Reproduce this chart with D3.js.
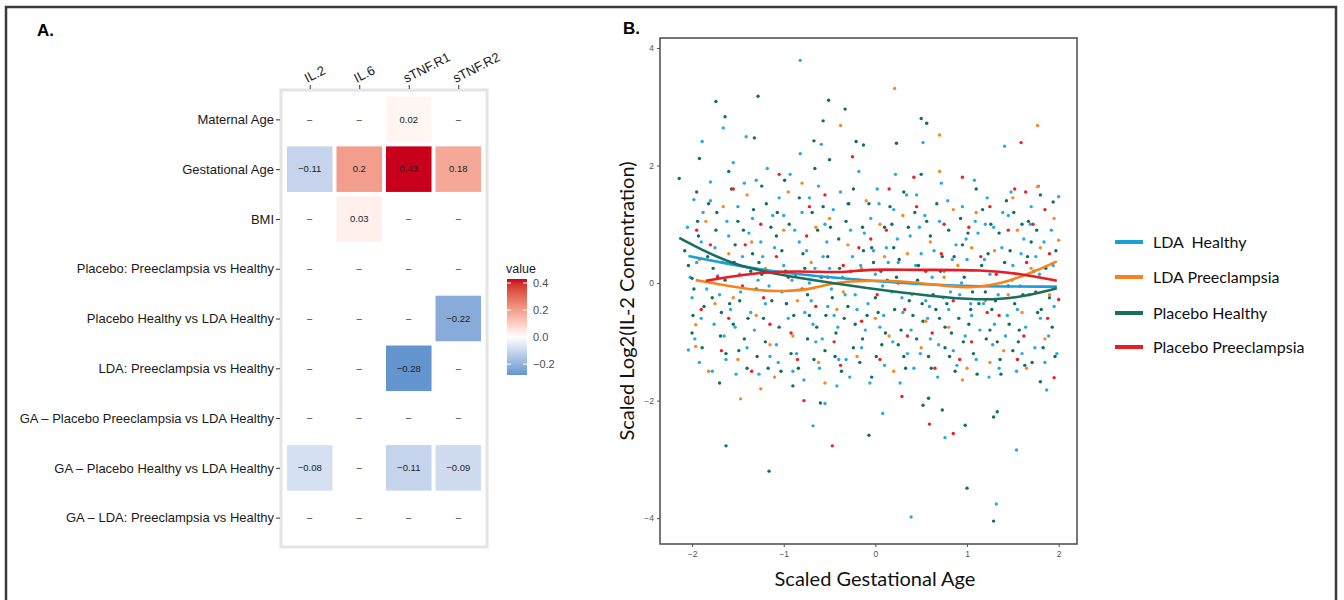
<!DOCTYPE html>
<html>
<head>
<meta charset="utf-8">
<script src="https://cdn.jsdelivr.net/npm/d3@7"></script>
<style>
  body { margin: 0; background: #fff; }
  svg { display: block; }
</style>
</head>
<body>
<div class="canvas"></div>
<script>
/////////////////////////////////////////////////
// Data
/////////////////////////////////////////////////

// Panel A: effect sizes (null = not significant, shown as "–")
const covariates = [
  "Maternal Age",
  "Gestational Age",
  "BMI",
  "Placebo: Preeclampsia vs Healthy",
  "Placebo Healthy vs LDA Healthy",
  "LDA: Preeclampsia vs Healthy",
  "GA – Placebo Preeclampsia vs LDA Healthy",
  "GA – Placebo Healthy vs LDA Healthy",
  "GA – LDA: Preeclampsia vs Healthy",
];
const cytokines = ["IL.2", "IL.6", "sTNF.R1", "sTNF.R2"];
const effects = [
  [null, null, 0.02, null],
  [-0.11, 0.2, 0.43, 0.18],
  [null, 0.03, null, null],
  [null, null, null, null],
  [null, null, null, -0.22],
  [null, null, -0.28, null],
  [null, null, null, null],
  [-0.08, null, -0.11, -0.09],
  [null, null, null, null],
];
const valueRange = [-0.28, 0.43];
const legendTicks = [-0.2, 0, 0.2, 0.4];

// Panel B: scaled gestational age vs scaled log2(IL-2)
const groups = ["LDA  Healthy", "LDA Preeclampsia", "Placebo Healthy", "Placebo Preeclampsia"];
const xTicks = [-2, -1, 0, 1, 2];
const yTicks = [-4, -2, 0, 2, 4];

const ldaHealthy = [
  [-2.05,0.95],[-1.95,0.35],[-1.9,-0.6],[-2.0,-0.25],[-1.88,1.2],[-1.92,-1.35],
  [-1.8,1.72],[-1.75,0.6],[-1.7,-0.2],[-1.65,-0.9],[-1.78,-1.5],[-1.62,1.05],[-1.72,0.12],
  [-1.55,2.05],[-1.5,1.3],[-1.45,0.45],[-1.58,-0.45],[-1.4,-1.1],[-1.52,-1.55],[-1.38,0.85],[-1.47,-0.15],
  [-1.3,1.75],[-1.25,0.7],[-1.2,-0.35],[-1.15,-1.25],[-1.32,-0.8],[-1.12,1.15],[-1.28,0.05],[-1.18,1.95],
  [-1.05,1.45],[-1.0,0.3],[-0.95,-0.6],[-0.9,-1.5],[-1.08,-1.05],[-0.88,0.9],[-1.02,-0.15],[-0.93,1.85],
  [-0.8,1.2],[-0.75,0.55],[-0.7,-0.3],[-0.65,-1.0],[-0.78,-1.65],[-0.62,1.65],[-0.72,0.0],[-0.68,-0.7],[-0.82,2.2],
  [-0.55,1.0],[-0.5,0.25],[-0.45,-0.55],[-0.4,-1.3],[-0.58,-0.95],[-0.38,1.55],[-0.48,-0.1],[-0.53,0.7],[-0.42,-1.75],
  [-0.3,1.35],[-0.25,0.45],[-0.2,-0.45],[-0.15,-1.1],[-0.33,-0.2],[-0.12,0.85],[-0.28,-1.6],[-0.18,1.9],
  [-0.05,1.1],[0.0,0.15],[0.05,-0.75],[0.1,-1.4],[-0.08,-0.35],[0.12,0.6],[0.02,1.6],[0.08,-0.05],
  [0.2,1.25],[0.25,0.35],[0.3,-0.5],[0.35,-1.2],[0.18,-0.15],[0.38,0.8],[0.27,-1.7],[0.22,1.85],
  [0.45,1.5],[0.5,0.5],[0.55,-0.3],[0.6,-0.95],[0.42,-1.45],[0.62,0.1],[0.48,0.95],[0.57,-0.6],
  [0.7,1.05],[0.75,0.2],[0.8,-0.45],[0.85,-1.15],[0.68,-1.6],[0.88,0.65],[0.72,1.7],[0.82,-0.15],
  [0.95,1.3],[1.0,0.4],[1.05,-0.55],[1.1,-1.3],[0.92,-0.2],[1.12,0.85],[0.98,-0.9],[1.08,1.75],
  [1.2,1.0],[1.25,0.15],[1.3,-0.7],[1.35,-1.45],[1.18,-0.35],[1.38,0.6],[1.22,1.45],[1.28,-1.05],
  [1.45,1.15],[1.5,0.3],[1.55,-0.45],[1.6,-1.2],[1.42,-0.9],[1.62,0.75],[1.48,1.55],[1.58,-0.05],
  [1.7,1.3],[1.75,0.45],[1.8,-0.6],[1.85,-1.35],[1.68,-0.2],[1.92,0.9],[1.95,-0.4],[1.78,1.65],
  [-0.82,3.79],[-1.66,2.64],[-1.89,2.41],[-1.41,2.49],[-0.59,2.36],[0.52,2.39],[1.41,2.33],
  [-0.68,-2.43],[0.08,-2.22],[0.39,-3.98],[0.76,-2.63],[1.32,-3.76],[1.54,-2.84],[-0.55,-2.05],
  [-1.98,1.42],[-2.04,-1.14],[2.0,1.47],[1.87,-1.82],
  [-2.02,0.1],[-1.97,-0.95],[-1.9,0.7],[-1.84,-0.1],[-1.8,1.4],[-1.76,-0.7],[-1.67,0.35],[-1.63,-1.3],
  [-1.6,0.8],[-1.53,-0.75],[-1.48,0.15],[-1.43,1.7],[-1.36,-0.5],[-1.34,1.1],[-1.27,-1.55],[-1.23,0.45],
  [-1.16,-0.05],[-1.1,0.6],[-1.06,-1.35],[-1.0,1.15],[-0.97,-0.35],[-0.91,0.05],[-0.86,-1.2],[-0.83,0.7],
  [-0.77,-0.5],[-0.72,1.45],[-0.66,0.25],[-0.61,-1.45],[-0.57,0.45],[-0.52,-0.4],[-0.46,1.25],[-0.41,-0.75],
  [-0.36,0.1],[-0.32,-1.3],[-0.27,0.9],[-0.22,-0.2],[-0.16,0.3],[-0.11,-0.8],[-0.06,-1.7],[-0.02,0.55],
  [0.04,1.35],[0.09,-0.55],[0.14,0.35],[0.19,-1.0],[0.24,0.75],[0.29,-0.25],[0.34,1.5],[0.39,-0.8],
  [0.44,0.3],[0.49,-1.2],[0.54,1.15],[0.59,-0.4],[0.64,0.55],[0.69,-1.05],[0.74,-0.25],[0.79,1.4],
  [0.84,0.4],[0.89,-1.4],[0.94,0.0],[0.99,0.75],[1.04,-0.35],[1.09,1.05],[1.14,-0.8],[1.19,0.4],
  [1.24,-1.6],[1.29,0.95],[1.34,-0.2],[1.39,1.2],[1.44,-0.55],[1.49,0.05],[1.54,-1.5],[1.59,0.5],
  [1.64,-0.75],[1.69,1.0],[1.74,-1.1],[1.79,0.15],[1.84,0.7],[1.89,-0.9],[1.94,0.3],[1.98,-1.2],
];
const placeboHealthy = [
  [-2.08,0.55],[-1.98,-0.1],[-1.93,0.8],[-2.0,-0.85],[-1.87,-0.4],[-1.95,1.55],
  [-1.82,1.35],[-1.77,0.25],[-1.68,-0.5],[-1.63,-1.2],[-1.74,0.9],[-1.7,-1.7],[-1.6,1.9],
  [-1.57,1.6],[-1.53,0.65],[-1.48,-0.3],[-1.43,-0.95],[-1.36,0.2],[-1.5,1.05],[-1.4,-1.45],[-1.55,-0.7],
  [-1.33,1.25],[-1.27,0.35],[-1.22,-0.6],[-1.17,-1.45],[-1.3,-0.1],[-1.14,0.95],[-1.24,1.65],[-1.2,-1.0],
  [-1.07,1.2],[-1.02,0.55],[-0.97,-0.35],[-0.92,-1.2],[-1.05,-0.75],[-0.87,0.15],[-0.99,1.75],[-0.9,-1.75],
  [-0.83,1.45],[-0.77,0.25],[-0.72,-0.55],[-0.67,-1.3],[-0.63,0.9],[-0.8,-0.1],[-0.74,-0.95],[-0.66,1.95],
  [-0.57,1.3],[-0.52,0.45],[-0.47,-0.25],[-0.43,-0.85],[-0.37,-1.5],[-0.55,-1.15],[-0.4,0.75],[-0.5,2.1],
  [-0.32,1.05],[-0.27,0.2],[-0.22,-0.7],[-0.17,-1.35],[-0.13,0.55],[-0.3,-0.4],[-0.24,1.6],[-0.14,-0.95],
  [-0.07,1.35],[-0.02,0.35],[0.03,-0.5],[0.07,-1.05],[0.13,0.05],[-0.04,-1.6],[0.1,0.95],[0.0,-0.25],
  [0.18,1.0],[0.23,0.1],[0.28,-0.8],[0.33,-1.45],[0.37,-0.3],[0.2,0.6],[0.31,1.55],[0.25,-1.05],
  [0.43,1.2],[0.47,0.3],[0.52,-0.65],[0.58,-1.25],[0.63,-0.2],[0.45,-0.95],[0.6,0.8],[0.5,1.85],
  [0.67,1.35],[0.73,0.45],[0.78,-0.35],[0.83,-0.85],[0.87,-1.5],[0.7,-0.6],[0.8,0.9],[0.76,-1.1],
  [0.93,1.1],[0.97,0.1],[1.02,-0.7],[1.07,-1.2],[1.13,-0.35],[0.95,0.65],[1.1,1.6],[1.04,-0.45],
  [1.17,1.25],[1.23,0.5],[1.27,-0.45],[1.33,-1.0],[1.37,-1.55],[1.2,-0.15],[1.35,0.85],[1.25,-0.8],
  [1.43,1.4],[1.47,0.55],[1.52,-0.35],[1.57,-0.8],[1.63,-1.4],[1.45,-0.05],[1.6,1.0],[1.5,-1.15],
  [1.67,1.05],[1.73,0.2],[1.77,-0.5],[1.83,-1.1],[1.9,-0.25],[1.7,0.7],[1.97,0.55],[1.8,1.5],[1.93,-0.75],
  [-1.74,3.09],[-1.28,3.18],[-0.51,3.11],[-0.33,2.96],[-1.64,2.83],[-0.57,2.76],[0.5,2.8],[0.56,2.72],
  [-1.32,2.47],[-0.67,2.42],[-0.21,2.41],[-0.13,2.35],[0.23,2.38],
  [-1.63,-2.77],[-1.16,-3.2],[-0.07,-2.59],[0.73,-2.16],[0.98,-2.42],[1.0,-3.49],[1.29,-2.28],
  [1.33,-2.19],[1.29,-4.05],[0.52,-2.08],[0.58,-1.96],[-0.6,-2.04],
  [-2.14,1.78],[-1.92,2.12],[-2.0,0.08],[1.94,1.38],[1.8,-1.68],
  [-2.04,0.3],[-1.99,-0.55],[-1.94,1.05],[-1.89,-1.1],[-1.83,0.45],[-1.78,-0.25],[-1.73,1.2],[-1.69,-0.9],
  [-1.64,0.05],[-1.59,-0.35],[-1.54,0.35],[-1.49,-1.15],[-1.44,0.9],[-1.39,-0.6],[-1.34,0.5],[-1.29,-1.25],
  [-1.24,0.15],[-1.19,1.35],[-1.13,-0.3],[-1.08,0.8],[-1.03,-1.5],[-0.98,0.2],[-0.94,1.0],[-0.89,-0.55],
  [-0.84,-1.45],[-0.79,0.5],[-0.74,-0.2],[-0.69,1.2],[-0.64,-0.75],[-0.59,0.1],[-0.54,-0.55],[-0.49,0.95],
  [-0.44,-1.25],[-0.39,0.25],[-0.34,-0.6],[-0.29,1.35],[-0.24,-1.1],[-0.19,0.05],[-0.14,0.95],[-0.09,-0.55],
  [-0.04,0.6],[0.01,-1.25],[0.06,0.2],[0.11,-0.85],[0.16,1.3],[0.21,-0.45],[0.26,0.4],[0.31,-1.25],
  [0.36,0.95],[0.41,-0.55],[0.46,0.05],[0.51,-0.35],[0.56,1.05],[0.61,-1.45],[0.66,-0.45],[0.71,0.2],
  [0.76,-0.75],[0.81,-1.25],[0.86,0.45],[0.91,-0.6],[0.96,-1.0],[1.01,0.85],[1.06,-0.15],[1.11,-1.55],
  [1.16,0.3],[1.21,-0.95],[1.26,1.0],[1.31,-0.3],[1.36,-1.3],[1.41,0.35],[1.46,-0.7],[1.51,1.2],
  [1.56,-1.0],[1.61,-0.2],[1.66,0.45],[1.71,-1.35],[1.76,0.9],[1.81,-0.45],[1.86,0.25],[1.96,-1.25],
];
const ldaPreeclampsia = [
  [0.21,3.31],[-0.38,2.68],[1.77,2.68],[0.7,2.52],[-1.96,-0.71],[-1.96,-1.08],[2.0,0.73],[1.77,1.64],[-1.47,-1.97],
  [-1.85,1.05],[-1.75,-0.35],[-1.6,0.5],[-1.5,-1.3],[-1.4,1.5],[-1.3,-0.55],[-1.2,0.25],[-1.1,-1.6],
  [-1.0,0.9],[-0.9,-0.9],[-0.8,1.7],[-0.7,0.35],[-0.62,-1.35],[-0.5,1.1],[-0.42,-0.45],[-0.3,0.65],
  [-0.2,-1.25],[-0.1,1.4],[0.0,-0.6],[0.1,0.45],[0.2,-1.5],[0.3,1.15],[0.4,-0.2],[0.5,-1.1],[0.6,0.7],
  [0.7,1.9],[0.8,-0.75],[0.9,0.3],[1.0,-1.45],[1.1,1.2],[1.2,-0.3],[1.3,0.55],[1.4,-1.15],[1.5,1.45],
  [1.6,-0.5],[1.7,0.25],[1.85,-0.95],[1.95,1.1],[-1.25,-1.8],[0.95,-1.65],
  [-1.92,0.4],[-1.82,-1.5],[-1.66,1.3],[-1.55,-0.25],[-1.35,0.7],[-1.15,-1.05],[-0.95,1.55],[-0.85,-0.3],
  [-0.65,0.95],[-0.55,-1.7],[-0.35,-0.15],[-0.15,0.25],[0.05,1.0],[0.15,-0.9],[0.35,0.5],[0.55,-0.65],
  [0.75,0.1],[0.85,1.25],[1.05,0.6],[1.25,-1.35],[1.45,-0.2],[1.55,0.9],[1.65,-1.45],[1.8,0.6],[1.9,-0.2],
];
const placeboPreeclampsia = [
  [1.59,2.39],[-0.47,-2.77],[0.59,-2.4],[0.85,-2.56],[0.29,-1.93],[-0.78,-2.0],[1.95,-1.61],[2.0,-0.28],[1.64,1.55],
  [-1.9,-0.45],[-1.8,0.65],[-1.68,-1.15],[-1.55,1.6],[-1.45,-0.05],[-1.35,-1.5],[-1.25,1.0],[-1.15,-0.7],
  [-1.05,1.85],[-0.95,0.1],[-0.85,-1.3],[-0.75,0.8],[-0.65,-0.4],[-0.55,1.5],[-0.45,-1.0],[-0.35,0.3],
  [-0.25,2.15],[-0.15,-0.65],[-0.05,0.75],[0.05,-1.3],[0.15,1.6],[0.25,0.0],[0.35,-0.9],[0.45,1.3],
  [0.55,0.2],[0.65,-1.45],[0.75,1.0],[0.85,-0.3],[0.95,1.8],[1.05,-1.0],[1.15,0.45],[1.25,1.3],
  [1.35,-0.55],[1.45,0.9],[1.55,-1.3],[1.65,0.35],[1.75,-0.15],[1.85,1.25],[1.9,0.5],
  [-1.95,0.9],[-1.72,0.1],[-1.6,-0.6],[-1.42,0.65],[-1.22,-0.25],[-1.08,0.45],[-0.92,-0.85],[-0.72,1.3],
  [-0.52,0.1],[-0.38,-1.4],[-0.18,0.6],[0.02,-0.2],[0.12,0.9],[0.32,-0.45],[0.42,1.8],[0.62,-0.85],
  [0.72,0.5],[0.92,-1.3],[1.02,0.95],[1.22,-0.5],[1.32,0.15],[1.52,1.6],[1.62,-0.9],[1.72,1.0],[1.88,-0.6],
];

// LOESS fits
const ldaHealthyFit = [[-2.04,0.46],[-1.55,0.31],[-1.18,0.21],[-0.46,0.09],[0.27,0.0],[1.0,-0.06],[1.98,-0.06]];
const ldaPreeclampsiaFit = [[-1.96,0.05],[-1.36,-0.12],[-1.0,-0.15],[-0.64,-0.09],[-0.46,0.02],[0.09,0.05],[0.45,0.01],[0.82,-0.06],[1.07,-0.08],[1.36,-0.02],[1.73,0.19],[1.98,0.37]];
const placeboHealthyFit = [[-2.14,0.77],[-1.55,0.28],[-0.82,0.08],[-0.09,-0.09],[0.64,-0.23],[1.11,-0.29],[1.55,-0.26],[1.98,-0.09]];
const placeboPreeclampsiaFit = [[-1.85,0.04],[-1.36,0.17],[-0.82,0.21],[-0.38,0.17],[-0.09,0.24],[0.45,0.22],[1.18,0.23],[1.66,0.14],[1.98,0.04]];

const groupColors = ["#29a9df", "#f68a1f", "#0f6e60", "#ec1f26"];
const lineColors = ["#1a9fd8", "#f5841f", "#17705f", "#e81c24"];

/////////////////////////////////////////////////
// Setup
/////////////////////////////////////////////////

const width = 1344;
const height = 600;
const svg = d3.select(".canvas").append("svg").attr("width", width).attr("height", height);

// Outer frame
svg.append("rect")
  .attr("x", 6).attr("y", 7).attr("width", 1330).attr("height", 620)
  .attr("fill", "none").attr("stroke", "#3a3a3a").attr("stroke-width", 2.5);

svg.append("text").attr("x", 37).attr("y", 36).text("A.")
  .attr("font-family", "Liberation Sans, Arial, sans-serif").attr("font-weight", "bold").attr("font-size", 17);
svg.append("text").attr("x", 623).attr("y", 34).text("B.")
  .attr("font-family", "Liberation Sans, Arial, sans-serif").attr("font-weight", "bold").attr("font-size", 17);

/////////////////////////////////////////////////
// Panel A: heatmap
/////////////////////////////////////////////////

const heatFont = "Liberation Sans, Arial, sans-serif";
const xH = d3.scalePoint().domain(cytokines).range([281, 487]).padding(0.58);
const yH = d3.scalePoint().domain(covariates).range([90, 547]).padding(0.59);
const tile = xH.step() * 0.92;

const lowColor = d3.interpolateLab("#ffffff", "#6595cf");
const highColor = d3.interpolateLab("#ffffff", "#c9001b");
const fill = (v) => (v < 0 ? lowColor(v / valueRange[0]) : highColor(v / valueRange[1]));

const heat = svg.append("g");

const cells = [];
effects.forEach((row, i) =>
  row.forEach((v, j) => cells.push({ row: covariates[i], col: cytokines[j], value: v }))
);

heat.selectAll(".tile")
  .data(cells.filter((d) => d.value !== null))
  .enter()
  .append("rect")
  .attr("class", "tile")
  .attr("x", (d) => xH(d.col) - tile / 2)
  .attr("y", (d) => yH(d.row) - tile / 2)
  .attr("width", tile)
  .attr("height", tile)
  .attr("fill", (d) => fill(d.value));

heat.selectAll(".cell-label")
  .data(cells)
  .enter()
  .append("text")
  .attr("class", "cell-label")
  .attr("x", (d) => xH(d.col))
  .attr("y", (d) => yH(d.row))
  .attr("dy", "0.35em")
  .attr("text-anchor", "middle")
  .attr("font-family", heatFont)
  .attr("font-size", 9.5)
  .attr("fill", "#222")
  .text((d) => (d.value === null ? "–" : d3.format("")(d.value).replace("-", "−")));

// Panel border
heat.append("rect")
  .attr("x", 281).attr("y", 90).attr("width", 206).attr("height", 457)
  .attr("fill", "none").attr("stroke", "#e4e4e4").attr("stroke-width", 3);

// Row axis
const rowAxis = heat.append("g").attr("transform", "translate(280,0)")
  .call(d3.axisLeft(yH).tickSize(4).tickPadding(2));
rowAxis.select(".domain").remove();
rowAxis.selectAll("line").attr("stroke", "#333");
rowAxis.selectAll("text").attr("font-family", heatFont).attr("font-size", 13).attr("fill", "#1a1a1a");

// Column axis
const colAxis = heat.append("g").attr("transform", "translate(0,89)")
  .call(d3.axisTop(xH).tickSize(4));
colAxis.select(".domain").remove();
colAxis.selectAll("line").attr("stroke", "#333");
colAxis.selectAll("text")
  .attr("x", 0).attr("y", 0).attr("dy", 0)
  .attr("text-anchor", "start")
  .attr("transform", "translate(-3,-6) rotate(-27)")
  .attr("font-family", heatFont).attr("font-size", 13).attr("fill", "#1a1a1a");

// Colour legend
const legendY = d3.scaleLinear().domain(valueRange).range([375, 279]);
const defs = svg.append("defs");
const grad = defs.append("linearGradient").attr("id", "valueGrad")
  .attr("x1", 0).attr("y1", 1).attr("x2", 0).attr("y2", 0);
d3.range(0, 1.0001, 0.05).forEach((t) => {
  const v = valueRange[0] + t * (valueRange[1] - valueRange[0]);
  grad.append("stop").attr("offset", t).attr("stop-color", fill(v));
});
const colourLegend = svg.append("g");
colourLegend.append("text").attr("x", 506).attr("y", 273).text("value")
  .attr("font-family", heatFont).attr("font-size", 12.5).attr("fill", "#1a1a1a");
colourLegend.append("rect")
  .attr("x", 507).attr("y", 279).attr("width", 20).attr("height", 96)
  .attr("fill", "url(#valueGrad)");
colourLegend.selectAll(".lt")
  .data(legendTicks)
  .enter()
  .append("text")
  .attr("x", 533)
  .attr("y", (d) => legendY(d))
  .attr("dy", "0.35em")
  .attr("font-family", heatFont).attr("font-size", 11).attr("fill", "#4d4d4d")
  .text((d) => d3.format(".1f")(d).replace("-", "−"));
colourLegend.selectAll(".tk")
  .data(legendTicks)
  .enter()
  .append("path")
  .attr("d", (d) => `M507,${legendY(d)}h4M523,${legendY(d)}h4`)
  .attr("stroke", "#fff").attr("stroke-width", 1);

/////////////////////////////////////////////////
// Panel B: scatter with smooths
/////////////////////////////////////////////////

const x = d3.scaleLinear().domain([-2.35, 2.2]).range([660, 1077]);
const y = d3.scaleLinear().domain([-4.44, 4.17]).range([544, 38]);

const scatter = svg.append("g");
const series = [ldaHealthy, placeboHealthy, ldaPreeclampsia, placeboPreeclampsia];
const seriesColor = [groupColors[0], groupColors[2], groupColors[1], groupColors[3]];

series.forEach((pts, i) => {
  scatter.append("g")
    .selectAll("circle")
    .data(pts)
    .enter()
    .append("circle")
    .attr("cx", (d) => x(d[0]))
    .attr("cy", (d) => y(d[1]))
    .attr("r", 1.7)
    .attr("fill", seriesColor[i]);
});

const fits = [ldaHealthyFit, ldaPreeclampsiaFit, placeboHealthyFit, placeboPreeclampsiaFit];
const line = d3.line().x((d) => x(d[0])).y((d) => y(d[1])).curve(d3.curveBasis);
scatter.selectAll(".fit")
  .data(fits)
  .enter()
  .append("path")
  .attr("class", "fit")
  .attr("d", line)
  .attr("fill", "none")
  .attr("stroke", (d, i) => lineColors[i])
  .attr("stroke-width", 2.6);

// Plot box
scatter.append("rect")
  .attr("x", 660).attr("y", 38).attr("width", 417).attr("height", 506)
  .attr("fill", "none").attr("stroke", "#4a4a4a").attr("stroke-width", 1.5);

const xAxisG = scatter.append("g").attr("transform", "translate(0,544)")
  .call(d3.axisBottom(x).tickValues(xTicks).tickSize(3).tickPadding(4).tickFormat(d3.format("d")));
const yAxisG = scatter.append("g").attr("transform", "translate(660,0)")
  .call(d3.axisLeft(y).tickValues(yTicks).tickSize(3).tickPadding(3).tickFormat(d3.format("d")));
[xAxisG, yAxisG].forEach((g) => {
  g.select(".domain").remove();
  g.selectAll("line").attr("stroke", "#555");
  g.selectAll("text").attr("font-family", heatFont).attr("font-size", 8.5).attr("fill", "#555");
});

scatter.append("text")
  .attr("x", 875).attr("y", 586)
  .attr("text-anchor", "middle")
  .attr("font-family", "Lato, Open Sans, sans-serif").attr("font-size", 20).attr("fill", "#111")
  .text("Scaled Gestational Age");
scatter.append("text")
  .attr("transform", "translate(634,301) rotate(-90)")
  .attr("text-anchor", "middle")
  .attr("font-family", "Lato, Open Sans, sans-serif").attr("font-size", 20).attr("fill", "#111")
  .text("Scaled Log2(IL-2 Concentration)");

// Group legend
const legendRows = [242, 277, 313, 347];
const groupLegend = svg.append("g").selectAll("g").data(groups).enter().append("g")
  .attr("transform", (d, i) => `translate(1115, ${legendRows[i]})`);
groupLegend.append("line")
  .attr("x1", 0).attr("x2", 28)
  .attr("stroke", (d, i) => lineColors[i]).attr("stroke-width", 4);
groupLegend.append("text")
  .attr("x", 38).attr("dy", "0.35em")
  .attr("font-family", "Lato, Open Sans, sans-serif").attr("font-size", 16).attr("fill", "#111")
  .attr("xml:space", "preserve").style("white-space", "pre")
  .text((d) => d);
</script>
</body>
</html>
